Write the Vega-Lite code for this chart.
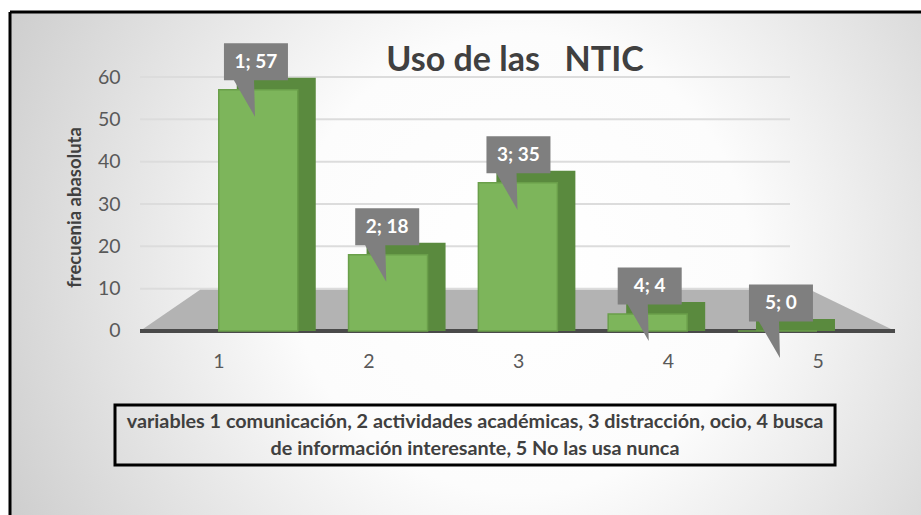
{
  "$schema": "https://vega.github.io/schema/vega-lite/v6.json",
  "autosize": {"type": "none"},
  "padding": {"left": 10, "top": 12, "right": 0, "bottom": 0},
  "width": 911,
  "height": 503,
  "background": "white",
  "config": {"view": {"stroke": null}},
  "title": {"text": "Uso de las\u00a0\u00a0\u00a0NTIC", "font": "Lato", "fontSize": 34, "fontWeight": "bold", "color": "#404040", "anchor": "middle", "frame": "group", "dx": 49.5, "offset": -94, "baseline": "alphabetic"},
  "data": {"values": [
    {"cat": 1, "valor": 57, "etiqueta": "1; 57"},
    {"cat": 2, "valor": 18, "etiqueta": "2; 18"},
    {"cat": 3, "valor": 35, "etiqueta": "3; 35"},
    {"cat": 4, "valor": 4, "etiqueta": "4; 4"},
    {"cat": 5, "valor": 0, "etiqueta": "5; 0"}
  ]},
  "resolve": {"scale": {"x": "independent", "y": "shared"}},
  "layer": [
    {
      "data": {"values": [{}]},
      "mark": {"type": "rect", "fill": {"gradient": "radial", "x1": 0.56, "y1": 0.5, "r1": 0, "x2": 0.56, "y2": 0.5, "r2": 0.72, "stops": [{"offset": 0, "color": "#ffffff"}, {"offset": 0.35, "color": "#fcfcfc"}, {"offset": 1, "color": "#c2c2c2"}]}},
      "encoding": {
        "x": {"datum": -0.874, "type": "quantitative", "scale": {"domain": [-0.874, 6.067], "nice": false, "zero": false}, "axis": null},
        "x2": {"datum": 6.067},
        "y": {"datum": -43.47, "type": "quantitative", "scale": {"domain": [-43.47, 75.36], "nice": false, "zero": false},
          "axis": {"values": [0, 10, 20, 30, 40, 50, 60], "zindex": 2, "grid": false, "domain": false, "ticks": false, "labelPadding": 0, "offset": -110,
            "labelFont": "Lato", "labelFontSize": 19.5, "labelColor": "#595959",
            "title": "frecuenia abasoluta", "titleFont": "Lato", "titleFontSize": 18.5, "titleFontWeight": "bold", "titleColor": "#404040",
            "titleX": -46, "titleY": 195, "titleAngle": -90, "titleAlign": "center", "titleBaseline": "middle"}},
        "y2": {"datum": 75.36}
      }
    },
    {
      "data": {"values": [{"g": 10}, {"g": 20}, {"g": 30}, {"g": 40}, {"g": 50}, {"g": 60}]},
      "mark": {"type": "rule", "color": "#dcdcdc", "strokeWidth": 2},
      "encoding": {
        "x": {"datum": 0.1165, "type": "quantitative", "scale": {"domain": [-0.874, 6.067], "nice": false, "zero": false}, "axis": null},
        "x2": {"datum": 5.069},
        "y": {"field": "g", "type": "quantitative", "scale": {"domain": [-43.47, 75.36], "nice": false, "zero": false}}
      }
    },
    {
      "data": {"values": [{}]},
      "mark": {"type": "point", "filled": true, "opacity": 1, "fill": "#b3b3b3", "strokeWidth": 0, "size": 577600, "shape": "M-0.992,0.055L0.995,0.055L0.771,-0.053L-0.834,-0.053Z"},
      "encoding": {
        "x": {"datum": 2.989, "type": "quantitative", "scale": {"domain": [-0.874, 6.067], "nice": false, "zero": false}, "axis": null},
        "y": {"datum": 4.96, "type": "quantitative", "scale": {"domain": [-43.47, 75.36], "nice": false, "zero": false}}
      }
    },
    {
      "data": {"values": [{}]},
      "mark": {"type": "rule", "color": "#4a4a4a", "strokeWidth": 4},
      "encoding": {
        "x": {"datum": 0.1165, "type": "quantitative", "scale": {"domain": [-0.874, 6.067], "nice": false, "zero": false}, "axis": null},
        "x2": {"datum": 5.869},
        "y": {"datum": 0, "type": "quantitative", "scale": {"domain": [-43.47, 75.36], "nice": false, "zero": false}}
      }
    },
    {
      "mark": {"type": "bar", "size": 79, "xOffset": 18, "yOffset": -12, "color": "#5a8a3e"},
      "encoding": {
        "x": {"field": "cat", "type": "quantitative", "scale": {"domain": [-0.874, 6.067], "nice": false, "zero": false}, "axis": null},
        "y": {"field": "valor", "type": "quantitative", "scale": {"domain": [-43.47, 75.36], "nice": false, "zero": false}},
        "y2": {"datum": 0}
      }
    },
    {
      "mark": {"type": "bar", "size": 79, "color": "#7db55b", "stroke": "#6a9f4a", "strokeWidth": 1.5},
      "encoding": {
        "x": {"field": "cat", "type": "quantitative", "scale": {"domain": [-0.874, 6.067], "nice": false, "zero": false}, "axis": null},
        "y": {"field": "valor", "type": "quantitative", "scale": {"domain": [-43.47, 75.36], "nice": false, "zero": false}},
        "y2": {"datum": 0}
      }
    },
    {
      "mark": {"type": "point", "filled": true, "opacity": 1, "fill": "#7f7f7f", "strokeWidth": 0, "size": 4096, "yOffset": -28,
        "shape": "M-1,-0.578L1,-0.578L1,0.578L-0.06,0.578L-0.03,1.72L-0.69,0.578L-1,0.578Z"},
      "encoding": {
        "x": {"field": "cat", "type": "quantitative", "scale": {"domain": [-0.874, 6.067], "nice": false, "zero": false}, "axis": null},
        "y": {"field": "valor", "type": "quantitative", "scale": {"domain": [-43.47, 75.36], "nice": false, "zero": false}}
      }
    },
    {
      "mark": {"type": "text", "yOffset": -28, "font": "Lato", "fontSize": 19, "fontWeight": "bold", "color": "white", "align": "center", "baseline": "middle"},
      "encoding": {
        "x": {"field": "cat", "type": "quantitative", "scale": {"domain": [-0.874, 6.067], "nice": false, "zero": false}, "axis": null},
        "y": {"field": "valor", "type": "quantitative", "scale": {"domain": [-43.47, 75.36], "nice": false, "zero": false}},
        "text": {"field": "etiqueta"}
      }
    },
    {
      "mark": {"type": "text", "font": "Lato", "fontSize": 19.5, "color": "#595959", "align": "center", "baseline": "middle"},
      "encoding": {
        "x": {"field": "cat", "type": "quantitative", "scale": {"domain": [-0.395, 5.686], "nice": false, "zero": false}, "axis": null},
        "y": {"datum": -7.32, "type": "quantitative", "scale": {"domain": [-43.47, 75.36], "nice": false, "zero": false}},
        "text": {"field": "cat"}
      }
    },
    {
      "data": {"values": [{}]},
      "mark": {"type": "rect", "fillOpacity": 0, "stroke": "black", "strokeWidth": 3},
      "encoding": {
        "x": {"datum": -0.074, "type": "quantitative", "scale": {"domain": [-0.874, 6.067], "nice": false, "zero": false}, "axis": null},
        "x2": {"datum": 5.412},
        "y": {"datum": -17.48, "type": "quantitative", "scale": {"domain": [-43.47, 75.36], "nice": false, "zero": false}},
        "y2": {"datum": -31.66}
      }
    },
    {
      "data": {"values": [{}]},
      "mark": {"type": "text", "font": "Lato", "fontSize": 19.8, "fontWeight": "bold", "color": "#404040", "align": "center", "baseline": "middle", "lineHeight": 27,
        "text": ["variables 1 comunicación, 2 actividades académicas, 3 distracción, ocio, 4 busca", "de información interesante, 5 No las usa nunca"]},
      "encoding": {
        "x": {"datum": 2.669, "type": "quantitative", "scale": {"domain": [-0.874, 6.067], "nice": false, "zero": false}, "axis": null},
        "y": {"datum": -21.43, "type": "quantitative", "scale": {"domain": [-43.47, 75.36], "nice": false, "zero": false}}
      }
    },
    {
      "data": {"values": [{}]},
      "mark": {"type": "rule", "color": "black", "strokeWidth": 3},
      "encoding": {
        "x": {"datum": -0.874, "type": "quantitative", "scale": {"domain": [-0.874, 6.067], "nice": false, "zero": false}, "axis": null},
        "x2": {"datum": 6.067},
        "y": {"datum": 75.36, "type": "quantitative", "scale": {"domain": [-43.47, 75.36], "nice": false, "zero": false}}
      }
    },
    {
      "data": {"values": [{}]},
      "mark": {"type": "rule", "color": "black", "strokeWidth": 3},
      "encoding": {
        "x": {"datum": -0.874, "type": "quantitative", "scale": {"domain": [-0.874, 6.067], "nice": false, "zero": false}, "axis": null},
        "y": {"datum": -43.47, "type": "quantitative", "scale": {"domain": [-43.47, 75.36], "nice": false, "zero": false}},
        "y2": {"datum": 75.36}
      }
    }
  ]
}
